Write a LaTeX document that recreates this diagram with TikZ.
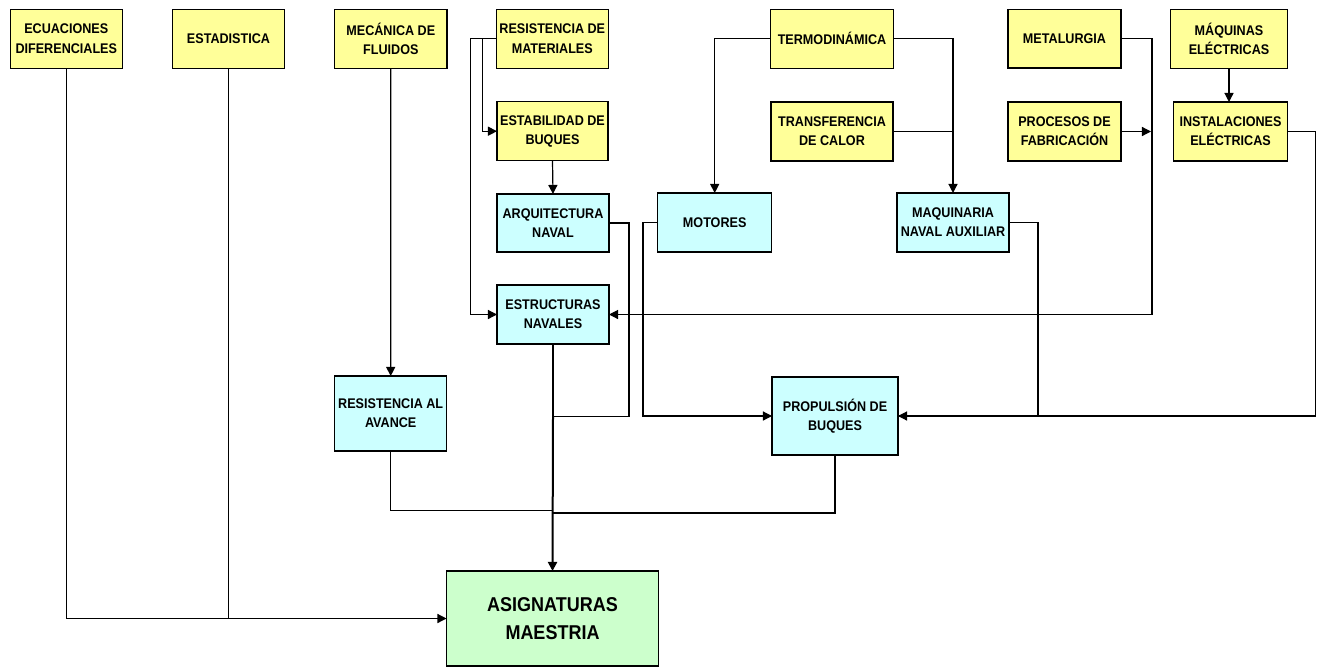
\documentclass[tikz,border=0pt]{standalone}
\usepackage{fontspec}
\setmainfont{Liberation Sans}[FakeStretch=0.9]
\usetikzlibrary{arrows.meta,calc}
\definecolor{yel}{HTML}{FFFF99}
\definecolor{cya}{HTML}{CCFFFF}
\definecolor{grn}{HTML}{CCFFCC}
\tikzset{
 box/.style={draw=black, line width=0.8pt, inner sep=0pt, outer sep=0pt, align=center, font=\fontsize{10.5}{14.5}\selectfont\bfseries},
 ybox/.style={box, fill=yel},
 cbox/.style={box, fill=cya},
 gbox/.style={box, fill=grn, font=\fontsize{15}{20.8}\selectfont\bfseries},
 sz/.style 2 args={minimum width=#1*0.75pt, minimum height=#2*0.75pt},
 conn/.style={line width=0.9pt},
 arr/.style={conn, -{Triangle[length=6.8pt,width=6.8pt]}},
}
\begin{document}
\begin{tikzpicture}[x=0.75pt,y=-0.75pt]
\useasboundingbox (0,0) rectangle (1323,668);
% top row
\node[ybox, sz={111.5}{58.5}] (ecu) at (66.3,38.8) {ECUACIONES\\DIFERENCIALES};
\node[ybox, sz={112}{58.5}] (est) at (228.5,38.8) {ESTADISTICA};
\node[ybox, sz={112.4}{58.5}] (mec) at (390.8,38.8) {MECÁNICA DE\\FLUIDOS};
\node[ybox, sz={111.5}{58.5}] (rdm) at (552.3,38.8) {RESISTENCIA DE\\MATERIALES};
\node[ybox, sz={122.5}{58.5}] (termo) at (832,38.8) {TERMODINÁMICA};
\node[ybox, sz={113}{58.5}, line width=1.3pt] (metal) at (1064.5,38.8) {METALURGIA};
\node[ybox, sz={117}{58.5}] (maq) at (1229,38.8) {MÁQUINAS\\ELÉCTRICAS};
% second row
\node[ybox, sz={111}{59}] (estab) at (552.5,131.2) {ESTABILIDAD DE\\BUQUES};
\node[ybox, sz={122}{59}] (trans) at (832,131.5) {TRANSFERENCIA\\DE CALOR};
\node[ybox, sz={113}{59}] (proc) at (1064.5,131.5) {PROCESOS DE\\FABRICACIÓN};
\node[ybox, sz={114}{59}] (inst) at (1230.5,131.5) {INSTALACIONES\\ELÉCTRICAS};
% third row
\node[cbox, sz={112}{58}] (arq) at (553,223) {ARQUITECTURA\\NAVAL};
\node[cbox, sz={113.5}{59}] (mot) at (714.7,222.5) {MOTORES};
\node[cbox, sz={112}{59}] (maqn) at (953,222.5) {MAQUINARIA\\NAVAL AUXILIAR};
\node[cbox, sz={112}{59}] (estr) at (553,314.5) {ESTRUCTURAS\\NAVALES};
\node[cbox, sz={112.5}{75}] (raa) at (390.7,413.5) {RESISTENCIA AL\\AVANCE};
\node[cbox, sz={126}{78}] (prop) at (835,416) {PROPULSIÓN DE\\BUQUES};
\node[gbox, sz={212}{95}] (asig) at (552.5,618.5) {ASIGNATURAS\\MAESTRIA};
% junctions
\coordinate (j1) at (553,416.7);
\coordinate (j2) at (553,510.7);
\coordinate (j3) at (553,513);
% connectors
\draw[arr] (ecu.south) |- (asig.west);
\draw[conn] (est.south) -- (est.south |- asig.west);
\draw[arr] (mec.south) -- (raa.north);
\draw[arr] (rdm.west) -- ++(-26,0) |- (estr.west);
\draw[arr] ($(rdm.west)+(-14,0)$) |- (estab.west);
\draw[arr] (estab.south) -- (arq.north);
\draw[arr] (termo.west) -| (mot.north);
\draw[arr] (termo.east) -| (maqn.north);
\draw[conn] (trans.east) -- (maqn.north |- trans.east);
\draw[arr] (metal.east) -- ++(31,0) |- (estr.east);
\draw[arr] (proc.east) -- ++(30,0);
\draw[arr] (maq.south) -- (maq.south |- inst.north);
\draw[arr] (inst.east) -- ++(28,0) |- (prop.east);
\draw[conn] (maqn.east) -- ++(29,0) |- (prop.east);
\draw[arr] (mot.west) -- ++(-15,0) |- (prop.west);
\draw[conn] (arq.east) -- ++(20,0) |- (j1);
\draw[conn] (raa.south) |- (j2);
\draw[conn] (prop.south) |- (j3);
\draw[conn] (estr.south) -- (j1);
\draw[arr, line width=1.5pt] (j1) -- (asig.north);
\end{tikzpicture}
\end{document}
